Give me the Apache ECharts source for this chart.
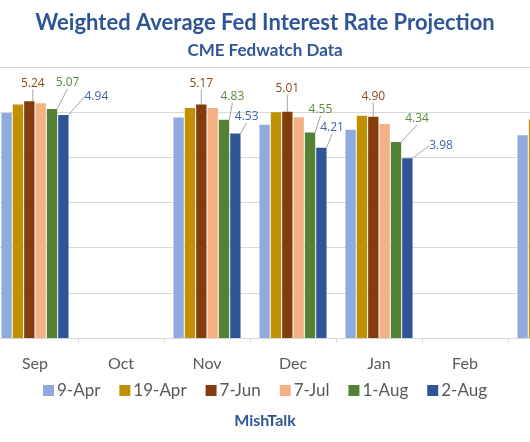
<!DOCTYPE html>
<html>
<head>
<meta charset="utf-8">
<script src="https://cdn.jsdelivr.net/npm/echarts@6/dist/echarts.min.js"></script>
<style>
html,body{margin:0;padding:0;background:#fff;}
#chart{width:530px;height:442px;}
</style>
</head>
<body>
<div id="chart"></div>
<script>
// ---- data ----
const categories = ['Sep', 'Oct', 'Nov', 'Dec', 'Jan', 'Feb', 'Mar'];
const seriesNames = ['9-Apr', '19-Apr', '7-Jun', '7-Jul', '1-Aug', '2-Aug'];
const apr9  = [4.98, null, 4.88, 4.72, 4.61, null, 4.49];
const apr19 = [5.17, null, 5.09, 5.00, 4.92, null, 4.83];
const jun7  = [5.24, null, 5.17, 5.01, 4.90, null, 4.75];
const jul7  = [5.20, null, 5.09, 4.89, 4.74, null, 4.55];
const aug1  = [5.07, null, 4.83, 4.55, 4.34, null, 4.05];
const aug2  = [4.94, null, 4.53, 4.21, 3.98, null, 3.75];
const yMin = 0, yMax = 6, yStep = 1;

// ---- styling ----
const colors = ['#8FAADC', '#BF9000', '#843C0C', '#F4B183', '#548235', '#2F5597'];
const labelColors = {2: '#8A4A1E', 4: '#5C8A3C', 5: '#3E64A8'};
// label centre relative to (bar centre x, bar top y)
const labelPlace = {
  2: {0: [3.5, -18], 2: [0, -21], 3: [0, -22.7], 4: [0, -20.3], 6: [0, -21]},
  4: {0: [15.5, -26.3], 2: [8.4, -22.8], 3: [10.4, -22.8], 4: [21, -23], 6: [12, -23]},
  5: {0: [33, -18.2], 2: [11.3, -16.4], 3: [10.7, -19.8], 4: [33.7, -12.5], 6: [20, -15]}
};
const FONT = 'Lato, "Open Sans", sans-serif';
const allData = [apr9, apr19, jun7, jul7, aug1, aug2];

const series = allData.map((d, i) => {
  const labeled = labelColors[i] !== undefined;
  return {
    name: seriesNames[i],
    type: 'bar',
    data: d,
    barGap: '10%',
    barCategoryGap: '22%',
    itemStyle: {color: colors[i]},
    label: labeled ? {
      show: true,
      position: 'top',
      distance: 5,
      color: labelColors[i],
      fontSize: 12,
      fontFamily: '"Open Sans", sans-serif',
      formatter: p => p.value == null ? '' : Number(p.value).toFixed(2)
    } : {show: false},
    labelLine: labeled ? {show: true, lineStyle: {color: '#A6A6A6', width: 1}} : undefined,
    labelLayout: labeled ? function (params) {
      const s = labelPlace[i] && labelPlace[i][params.dataIndex];
      if (!s) return {};
      const r = params.rect;
      return {
        x: r.x + r.width / 2 + s[0],
        y: r.y + s[1],
        align: 'center',
        verticalAlign: 'middle'
      };
    } : undefined
  };
});

const chart = echarts.init(document.getElementById('chart'), null, {renderer: 'canvas'});
chart.setOption({
  animation: false,
  backgroundColor: '#ffffff',
  color: colors,
  title: [
    {text: 'Weighted Average Fed Interest Rate Projection', left: 'center', top: 7,
     textStyle: {fontSize: 22, fontWeight: 'bold', color: '#2F5597', fontFamily: FONT}},
    {text: 'CME Fedwatch Data', left: 'center', top: 37,
     textStyle: {fontSize: 17, fontWeight: 'bold', color: '#2F5597', fontFamily: FONT}},
    {text: 'MishTalk', left: 'center', top: 408,
     textStyle: {fontSize: 16, fontWeight: 'bold', color: '#2F5597', fontFamily: FONT}}
  ],
  legend: {
    data: seriesNames,
    left: 'center',
    top: 377,
    icon: 'rect',
    itemWidth: 11,
    itemHeight: 11,
    itemGap: 19,
    textStyle: {fontSize: 17, color: '#595959', fontFamily: FONT, padding: [0, 0, 0, -2]}
  },
  grid: {left: -8, width: 602, top: 67, height: 271, containLabel: false, outerBoundsMode: 'none'},
  xAxis: {
    type: 'category',
    data: categories,
    boundaryGap: true,
    axisLine: {lineStyle: {color: '#D9D9D9', width: 1}},
    axisTick: {show: true, length: 5, lineStyle: {color: '#D9D9D9'}},
    axisLabel: {margin: 18, fontSize: 16, color: '#595959', fontFamily: FONT}
  },
  yAxis: {
    type: 'value',
    min: yMin, max: yMax, interval: yStep,
    axisLine: {show: false},
    axisTick: {show: false},
    axisLabel: {show: false},
    splitLine: {lineStyle: {color: '#D9D9D9', width: 1}}
  },
  series: series
});
</script>
</body>
</html>
